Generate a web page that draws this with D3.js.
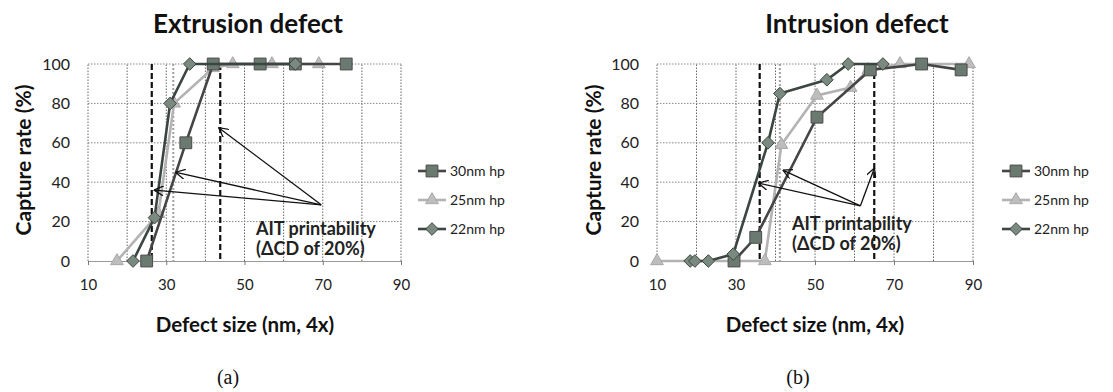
<!DOCTYPE html>
<html><head><meta charset="utf-8">
<script src="https://cdn.jsdelivr.net/npm/d3@7"></script>
<style>body{margin:0;background:#fff}svg{display:block}</style>
</head><body>
<svg id="c" width="1113" height="392"></svg>
<script>
// ---- data ----
const seriesNames = ["30nm hp", "25nm hp", "22nm hp"];
const xTicks = [10, 30, 50, 70, 90];
const yTicks = [0, 20, 40, 60, 80, 100];

// Extrusion defect (a)
const extr30x = [25, 35, 42, 54, 63, 76];
const extr30y = [0, 60, 100, 100, 100, 100];
const extr25x = [17.4, 28, 32, 42, 47, 57, 69];
const extr25y = [0, 24, 80, 98, 100, 100, 100];
const extr22x = [21.5, 27, 31, 36, 63];
const extr22y = [0, 22, 80, 100, 100];
const extrDashBlack = [26.3, 43.8];
const extrDashGray = [31.8];

// Intrusion defect (b)
const intr30x = [29.5, 35, 50.5, 64, 77, 87];
const intr30y = [0, 12, 73, 97, 100, 97];
const intr25x = [10, 37.3, 41.5, 50.5, 59, 63.5, 71.5, 89];
const intr25y = [0, 0, 59, 84, 88, 97, 100, 100];
const intr22x = [18.4, 19.6, 23, 29.3, 38.1, 41.1, 53, 58.4, 67.2];
const intr22y = [0, 0, 0, 3.5, 60, 85, 92, 100, 100];
const intrDashBlack = [36, 65];
const intrDashGray = [41.1];

const svg = d3.select("#c");
const font = "Lato, 'Open Sans', sans-serif";

const diamond = {draw(ctx, size){const r=Math.sqrt(size/2);ctx.moveTo(0,-r);ctx.lineTo(r,0);ctx.lineTo(0,r);ctx.lineTo(-r,0);ctx.closePath();}};

const styles = [
  {line:"#454545", fill:"#6b7a70", stroke:"#4a4a4a", shape:d3.symbolSquare, size:140},
  {line:"#b3b3b3", fill:"#bdbdbd", stroke:"#a8a8a8", shape:d3.symbolTriangle, size:70},
  {line:"#3c4640", fill:"#7b8a80", stroke:"#3c4640", shape:diamond, size:80}
];

svg.append("defs").append("marker")
  .attr("id","arr").attr("viewBox","0 0 10 10").attr("refX",9).attr("refY",5)
  .attr("markerWidth",10).attr("markerHeight",10).attr("markerUnits","userSpaceOnUse")
  .attr("orient","auto")
  .append("path").attr("d","M0,0 L9.5,5 L0,10").attr("fill","none").attr("stroke","#111").attr("stroke-width",1.3);

function panel(o){
  const x = d3.scaleLinear().domain([10,90]).range([o.x0, o.x1]);
  const y = d3.scaleLinear().domain([0,100]).range([261, 64]);
  const g = svg.append("g");

  // title
  g.append("text").attr("x",o.titleX).attr("y",33).attr("text-anchor","middle")
    .attr("font-family",font).attr("font-weight","bold").attr("font-size",26).attr("fill","#111").text(o.title);

  // grid
  const gridV = d3.range(10, 91, 10);
  g.selectAll(".gv").data(gridV).enter().append("line")
    .attr("x1",d=>x(d)).attr("x2",d=>x(d)).attr("y1",y(0)).attr("y2",y(100))
    .attr("stroke","#666").attr("stroke-width",1).attr("stroke-dasharray","1.5,1.5");
  g.selectAll(".gh").data(yTicks.filter(d=>d>0)).enter().append("line")
    .attr("x1",x(10)).attr("x2",x(90)).attr("y1",d=>y(d)).attr("y2",d=>y(d))
    .attr("stroke","#888").attr("stroke-width",1).attr("stroke-dasharray","1.5,1.5");

  // x axis
  const xa = g.append("g").attr("transform",`translate(0,${y(0)})`)
    .call(d3.axisBottom(x).tickValues(xTicks).tickSize(4).tickPadding(14).tickFormat(d3.format("d")));
  xa.select(".domain").attr("stroke","#999");
  xa.selectAll(".tick line").attr("stroke","#777");
  xa.selectAll("text").attr("font-family",font).attr("font-size",15).attr("fill","#222");

  // y axis
  const ya = g.append("g").attr("transform",`translate(${x(10)},0)`)
    .call(d3.axisLeft(y).tickValues(yTicks).tickSize(0).tickPadding(18));
  ya.select(".domain").remove();
  ya.selectAll("text").attr("font-family",font).attr("font-size",16).attr("fill","#222");

  // axis titles
  g.append("text").attr("transform",`translate(${o.yTitleX},160) rotate(-90)`).attr("text-anchor","middle")
    .attr("font-family",font).attr("font-weight","bold").attr("font-size",21).attr("fill","#111").text("Capture rate (%)");
  g.append("text").attr("x",o.xTitleX).attr("y",332).attr("text-anchor","middle")
    .attr("font-family",font).attr("font-weight","bold").attr("font-size",20.5).attr("fill","#111").text("Defect size (nm, 4x)");
  g.append("text").attr("x",o.xTitleX - 17).attr("y",384).attr("text-anchor","middle")
    .attr("font-family","'Liberation Serif', serif").attr("font-size",20).attr("fill","#111").text(o.label);

  // vertical dashed reference lines
  g.selectAll(".db").data(o.dashBlack).enter().append("line")
    .attr("x1",d=>x(d)).attr("x2",d=>x(d)).attr("y1",y(100)).attr("y2",y(0))
    .attr("stroke","#111").attr("stroke-width",2.2).attr("stroke-dasharray","6,3");
  g.selectAll(".dg").data(o.dashGray).enter().append("line")
    .attr("x1",d=>x(d)).attr("x2",d=>x(d)).attr("y1",y(100)).attr("y2",y(0))
    .attr("stroke","#a0a0a0").attr("stroke-width",2).attr("stroke-dasharray","2,2");

  // series
  const line = d3.line().x(d=>x(d[0])).y(d=>y(d[1]));
  const order = [1,0,2];
  order.forEach(i=>{
    const s = o.series[i], st = styles[i];
    const pts = s.x.map((v,k)=>[v, s.y[k]]);
    g.append("path").datum(pts).attr("d",line).attr("fill","none")
      .attr("stroke",st.line).attr("stroke-width",2.6);
    g.selectAll(".m"+i).data(pts).enter().append("path")
      .attr("transform",d=>`translate(${x(d[0])},${y(d[1])})`)
      .attr("d",d3.symbol().type(st.shape).size(st.size))
      .attr("fill",st.fill).attr("stroke",st.stroke).attr("stroke-width",1);
  });

  // annotation arrows
  o.arrows.forEach(a=>{
    g.append("line").attr("x1",x(o.arrowFrom[0])).attr("y1",y(o.arrowFrom[1]))
      .attr("x2",x(a[0])).attr("y2",y(a[1])).attr("stroke","#111").attr("stroke-width",1.3)
      .attr("marker-end","url(#arr)");
  });
  g.append("text").attr("x",o.annX).attr("y",o.annY).attr("font-family",font).attr("font-weight","bold")
    .attr("font-size",18).attr("fill","#222").text("AIT printability");
  g.append("text").attr("x",o.annX).attr("y",o.annY+20).attr("font-family",font).attr("font-weight","bold")
    .attr("font-size",18).attr("fill","#222").text("(ΔCD of 20%)");

  // legend
  const ly = [171, 200, 229];
  seriesNames.forEach((n,i)=>{
    const st = styles[i];
    const lg = g.append("g").attr("transform",`translate(${o.legX},${ly[i]})`);
    lg.append("line").attr("x1",0).attr("x2",28).attr("stroke",st.line).attr("stroke-width",2.6);
    lg.append("path").attr("transform","translate(14,0)").attr("d",d3.symbol().type(st.shape).size(st.size))
      .attr("fill",st.fill).attr("stroke",st.stroke);
    lg.append("text").attr("x",32).attr("y",5).attr("font-family",font).attr("font-size",14).attr("fill","#222").text(n);
  });
}

panel({
  title:"Extrusion defect", titleX:248, x0:88, x1:401, yTitleX:31, xTitleX:245, label:"(a)",
  series:[{x:extr30x,y:extr30y},{x:extr25x,y:extr25y},{x:extr22x,y:extr22y}],
  dashBlack:extrDashBlack, dashGray:extrDashGray,
  arrowFrom:[69.6, 28.5], arrows:[[43.5, 67.5],[32.5, 45],[27, 36]],
  annX:256, annY:235, legX:418
});
panel({
  title:"Intrusion defect", titleX:857, x0:657, x1:973, yTitleX:601, xTitleX:815, label:"(b)",
  series:[{x:intr30x,y:intr30y},{x:intr25x,y:intr25y},{x:intr22x,y:intr22y}],
  dashBlack:intrDashBlack, dashGray:intrDashGray,
  arrowFrom:[61.5, 28], arrows:[[65, 47],[42, 46],[35.8, 39.5]],
  annX:792, annY:230, legX:1002
});
</script>
</body></html>
